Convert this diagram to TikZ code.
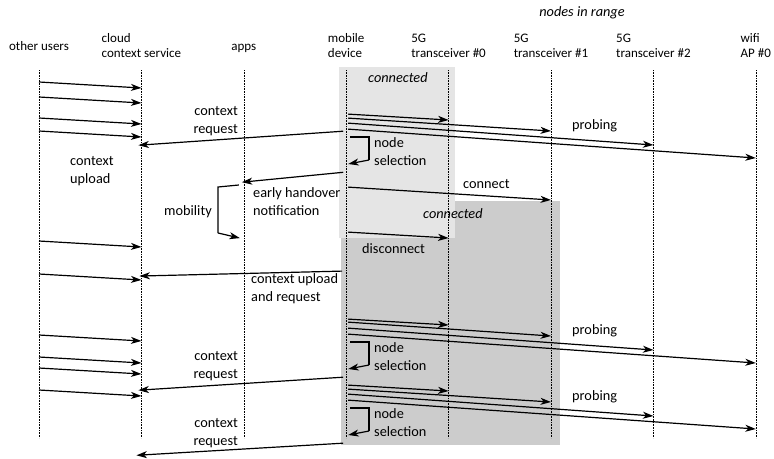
\documentclass[tikz,border=0pt]{standalone}
\usepackage{fontspec}
\setmainfont{Carlito}
\usetikzlibrary{arrows.meta}
\tikzset{
  lifeline/.style={line width=0.6pt, dash pattern=on 0.8pt off 0.8pt},
  msg/.style={line width=1.2pt, -{Stealth[length=10.5pt,width=7pt,inset=3pt]}},
  loopline/.style={line width=1.2pt},
  head/.style={inner sep=0pt, align=left, font=\fontsize{13}{15}\selectfont},
  lbl/.style={inner sep=0pt, font=\fontsize{14.3}{18}\selectfont},
  ilbl/.style={lbl, font=\fontsize{14.3}{18}\selectfont\itshape},
}
\begin{document}
\begin{tikzpicture}[x=1pt,y=-1pt]
\useasboundingbox (0,0) rectangle (774,458);

% lifeline positions
\coordinate (ou) at (39,0);
\coordinate (cs) at (141.4,0);
\coordinate (ap) at (243.8,0);
\coordinate (md) at (346.2,0);
\coordinate (t0) at (448.6,0);
\coordinate (t1) at (551,0);
\coordinate (t2) at (653.4,0);
\coordinate (wf) at (755.8,0);

% connection phases
\fill[black!20] (455,201) rectangle (560,445);
\fill[black!20] (341,238) rectangle (455,445);
\fill[black!10] (339,67) rectangle (455,238);
\node[ilbl, anchor=base west] (con0) at (368,82) {connected};
\node[ilbl, anchor=base west] (con1) at (423,218) {connected};

% headers (base anchor sits on the last line)
\node[ilbl, anchor=base] (range) at (582,16) {nodes in range};
\node[head, anchor=base] (h-ou) at (ou |- 0,50) {other users};
\node[head, anchor=base] (h-cs) at (cs |- 0,57.5) {cloud\\context service};
\node[head, anchor=base] (h-ap) at (ap |- 0,50) {apps};
\node[head, anchor=base] (h-md) at (md |- 0,57.5) {mobile\\device};
\node[head, anchor=base] (h-t0) at (t0 |- 0,57.5) {5G\\transceiver \#0};
\node[head, anchor=base] (h-t1) at (t1 |- 0,57.5) {5G\\transceiver \#1};
\node[head, anchor=base] (h-t2) at (t2 |- 0,57.5) {5G\\transceiver \#2};
\node[head, anchor=base] (h-wf) at (wf |- 0,57.5) {wifi\\AP \#0};

% lifelines
\foreach \c in {ou,cs,ap,md,t0,t1,t2,wf}
  \draw[lifeline] (\c |- 0,70) -- (\c |- 0,438);

% context uploads of other users
\foreach \y in {82,97,118,131,241,274,335,357,368,390}
  \draw[msg] (ou |- 0,\y) -- (cs |- 0,\y+6);
\node[lbl, anchor=base west, align=left] (upl) at (70,183) {context\\upload};

% probing rounds with node selection
\foreach \s/\b in {114/4,319/3,385/4} {
  \draw[msg, shorten <=2pt] (md |- 0,\s) -- (t0 |- 0,\s+6);
  \draw[msg, shorten <=2pt] (md |- 0,\s+\b) -- (t1 |- 0,\s+17);
  \draw[msg, shorten <=2pt] (md |- 0,\s+9) -- (t2 |- 0,\s+31);
  \draw[msg, shorten <=2pt] (md |- 0,\s+15) -- (wf |- 0,\s+44);
  \node[lbl, anchor=base west] (probe-\s) at (572,\s+15) {probing};
  \draw[loopline] ([xshift=4pt]md |- 0,\s+23) -- (369,\s+23) -- (369,\s+46) coordinate (sel-\s);
  \draw[msg] (sel-\s) -- ([xshift=2pt]md |- 0,\s+50);
  \node[lbl, anchor=base west, align=left] (seltxt-\s) at (374,\s+51) {node\\selection};
}

% context requests to the cloud
\draw[msg, shorten <=3pt, shorten >=-3pt] (md |- 0,131) -- (cs |- 0,145);
\node[lbl, anchor=base east, align=right] (req0) at (238,133) {context\\request};
\draw[msg, shorten <=4pt, shorten >=-2pt] (md |- 0,271) -- (cs |- 0,276);
\node[lbl, anchor=base west, align=left] (req1) at (251,301) {context upload\\and request};
\draw[msg, shorten <=3pt, shorten >=-3pt] (md |- 0,377) -- (cs |- 0,390);
\node[lbl, anchor=base east, align=right] (req2) at (238,378) {context\\request};
\draw[msg, shorten <=3pt, shorten >=-5pt] (md |- 0,443) -- (cs |- 0,455);
\node[lbl, anchor=base east, align=right] (req3) at (238,445) {context\\request};

% handover
\draw[msg, shorten <=3pt, shorten >=-2pt] (md |- 0,172) -- (ap |- 0,182);
\node[lbl, anchor=base west, align=left] (eho) at (253,215) {early handover\\notification};
\draw[loopline] ([xshift=-5pt]ap |- 0,185) -- (218,187) -- (218,233) coordinate (mob-end);
\draw[msg, shorten >=4pt] (mob-end) -- (ap |- 0,239);
\node[lbl, anchor=base east] (mob) at (212,215) {mobility};

\draw[msg, shorten <=2pt] (md |- 0,187) -- (t1 |- 0,200);
\node[lbl, anchor=base west] (conn) at (463,188) {connect};
\draw[msg, shorten <=2pt] (md |- 0,232) -- (t0 |- 0,238);
\node[lbl, anchor=base west] (disc) at (362,253) {disconnect};
\end{tikzpicture}
\end{document}
